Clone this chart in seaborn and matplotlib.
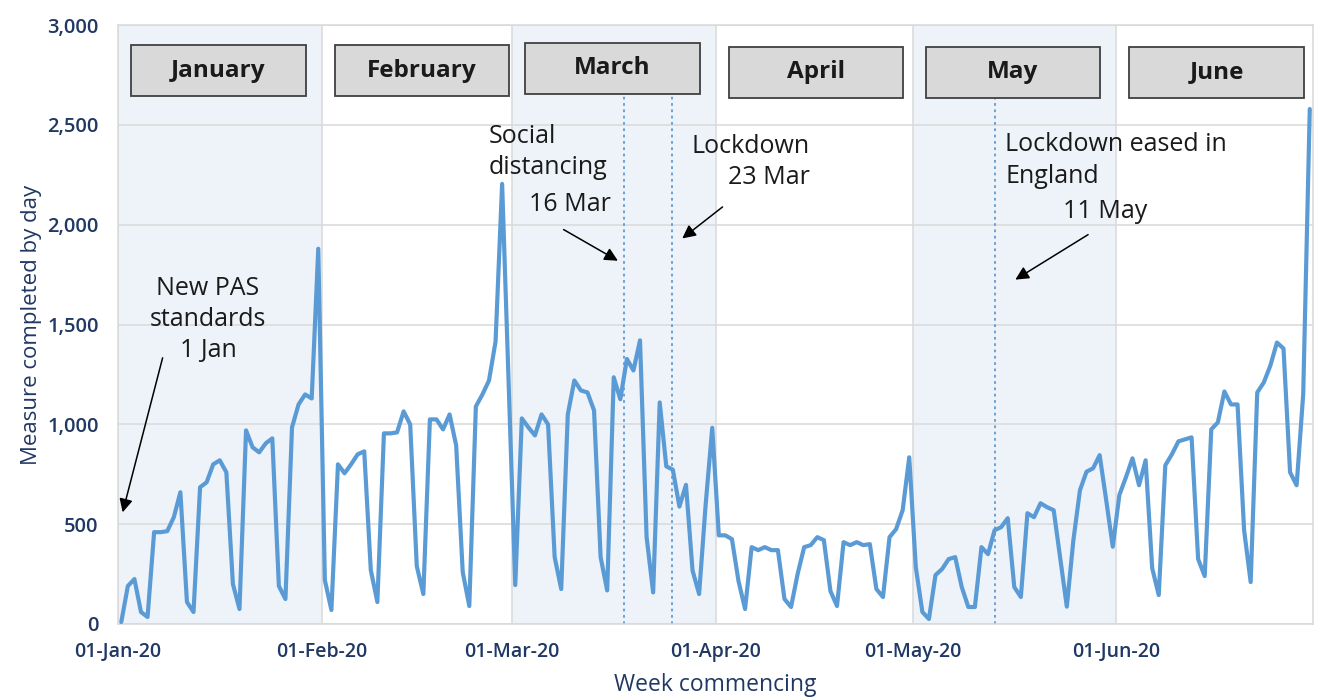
import numpy as np
import pandas as pd
import matplotlib
matplotlib.use("Agg")
import matplotlib.pyplot as plt
import matplotlib.dates as mdates
from matplotlib.patches import Rectangle
from matplotlib.ticker import FuncFormatter
import seaborn as sns

# daily counts, one list per month
jan_vals = [10, 190, 225, 60, 35, 460, 460, 465, 535, 660, 110, 60, 685, 710, 800, 820,
            760, 200, 75, 970, 885, 860, 905, 930, 190, 125, 985, 1100, 1150, 1130, 1880]
feb_vals = [220, 70, 800, 755, 800, 850, 865, 270, 110, 955, 955, 960, 1065, 1000, 290,
            150, 1025, 1025, 975, 1050, 895, 260, 90, 1090, 1150, 1220, 1415, 2205, 1200]
mar_vals = [195, 1030, 985, 945, 1050, 1000, 335, 175, 1050, 1220, 1170, 1160, 1070, 335,
            168, 1236, 1126, 1328, 1270, 1421, 436, 158, 1110, 790, 773, 588, 697, 268,
            150, 600, 983]
apr_vals = [444, 444, 425, 215, 75, 385, 370, 385, 370, 370, 125, 85, 250, 385, 395, 435,
            420, 165, 90, 410, 395, 410, 395, 400, 175, 135, 435, 475, 570, 835]
may_vals = [285, 60, 25, 245, 275, 325, 335, 185, 85, 85, 385, 350, 470, 485, 530, 185,
            135, 555, 535, 605, 585, 570, 330, 87, 420, 670, 763, 780, 846, 620, 387]
jun_vals = [646, 735, 830, 695, 820, 280, 145, 795, 850, 915, 925, 935, 325, 240, 975,
            1010, 1165, 1100, 1100, 470, 210, 1160, 1210, 1295, 1410, 1380, 760, 695,
            1150, 2580]

month_names = ["January", "February", "March", "April", "May", "June"]
month_starts = pd.date_range("2020-01-01", periods=7, freq="MS")

values = jan_vals + feb_vals + mar_vals + apr_vals + may_vals + jun_vals
dates = pd.date_range("2020-01-01", periods=len(values), freq="D") + pd.Timedelta(hours=12)
df = pd.DataFrame({"date": dates, "count": values})

sns.set_style("white")
plt.rcParams["font.family"] = ["Open Sans", "DejaVu Sans"]

navy = "#203864"
line_blue = "#5B9BD5"
txt = "#1a1a1a"

fig = plt.figure(figsize=(13.17, 7), dpi=100)
ax = fig.add_axes([0.0896, 0.1086, 0.9074, 0.8554])

# alternate month shading
for i in range(6):
    if i % 2 == 0:
        ax.axvspan(month_starts[i], month_starts[i + 1], color="#EEF3FA", lw=0, zorder=0)

sns.lineplot(data=df, x="date", y="count", color=line_blue, linewidth=3.0, ax=ax, zorder=3)

ax.set_xlim(month_starts[0], month_starts[-1])
ax.set_ylim(0, 3000)
ax.set_yticks(np.arange(0, 3001, 500))
ax.yaxis.set_major_formatter(FuncFormatter(lambda v, p: f"{int(v):,}"))
ax.set_xticks(month_starts[:-1])
ax.xaxis.set_major_formatter(mdates.DateFormatter("%d-%b-%y"))
ax.grid(True, color="#D9D9D9", linewidth=1.1, zorder=1)
ax.set_axisbelow(True)
for s in ax.spines.values():
    s.set_color("#D9D9D9")
    s.set_linewidth(1.1)
ax.tick_params(axis="y", length=0, pad=14, labelsize=14.5, labelcolor=navy)
ax.tick_params(axis="x", length=0, pad=13, labelsize=14, labelcolor=navy)
for lab in ax.get_xticklabels() + ax.get_yticklabels():
    lab.set_fontweight("semibold")
ax.set_ylabel("Measure completed by day", color=navy, fontsize=16, labelpad=4)
ax.set_xlabel("Week commencing", color=navy, fontsize=16.5, labelpad=8)

day0 = month_starts[0]
def d(x):
    return day0 + pd.Timedelta(days=x)

# month label boxes
box_lift = [0, 0, 12, -8, -8, -8]
for i, name in enumerate(month_names):
    left = month_starts[i] + pd.Timedelta(days=2)
    rect = Rectangle((mdates.date2num(left), 2645 + box_lift[i]), 26.6, 255,
                     facecolor="#D9D9D9", edgecolor="#404040", lw=1.3, zorder=5)
    ax.add_patch(rect)
    ax.text(mdates.date2num(left) + 13.3, 2772 + box_lift[i], name, ha="center",
            va="center", fontsize=17.5, fontweight="bold", color=txt, zorder=6)

# event lines
for x, top in [(77.1, 2660), (84.4, 2660), (133.6, 2700)]:
    ax.plot([d(x), d(x)], [0, top], color=line_blue, lw=1.3, ls=(0, (1.5, 2)), zorder=2)

fs = 18
ls = 1.32
ax.text(d(13.7), 1525, "New PAS\nstandards\n1 Jan", ha="center", va="center",
        fontsize=fs, linespacing=ls, color=txt, zorder=6)
ax.text(d(56.4), 2366, "Social\ndistancing", ha="left", va="center",
        fontsize=fs, linespacing=ls, color=txt, zorder=6)
ax.text(d(75.1), 2100, "16 Mar", ha="right", va="center", fontsize=fs, color=txt, zorder=6)
ax.text(d(105.3), 2316, "Lockdown\n23 Mar", ha="right", va="center", multialignment="right",
        fontsize=fs, linespacing=ls, color=txt, zorder=6)
ax.text(d(135.1), 2322, "Lockdown eased in\nEngland", ha="left", va="center",
        fontsize=fs, linespacing=ls, color=txt, zorder=6)
ax.text(d(156.8), 2068, "11 May", ha="right", va="center", fontsize=fs, color=txt, zorder=6)

arrows = [((6.9, 1347), (0.6, 546)), ((67.5, 1983), (76.5, 1813)),
          ((92.4, 2098), (85.6, 1923)), ((148.1, 1958), (136.3, 1718))]
for (tx, ty), (hx, hy) in arrows:
    ax.annotate("", xy=(d(hx), hy), xytext=(d(tx), ty),
                arrowprops=dict(arrowstyle="-|>", color="black", lw=1.1, mutation_scale=20),
                zorder=6)

fig.savefig("out.png", dpi=100)
